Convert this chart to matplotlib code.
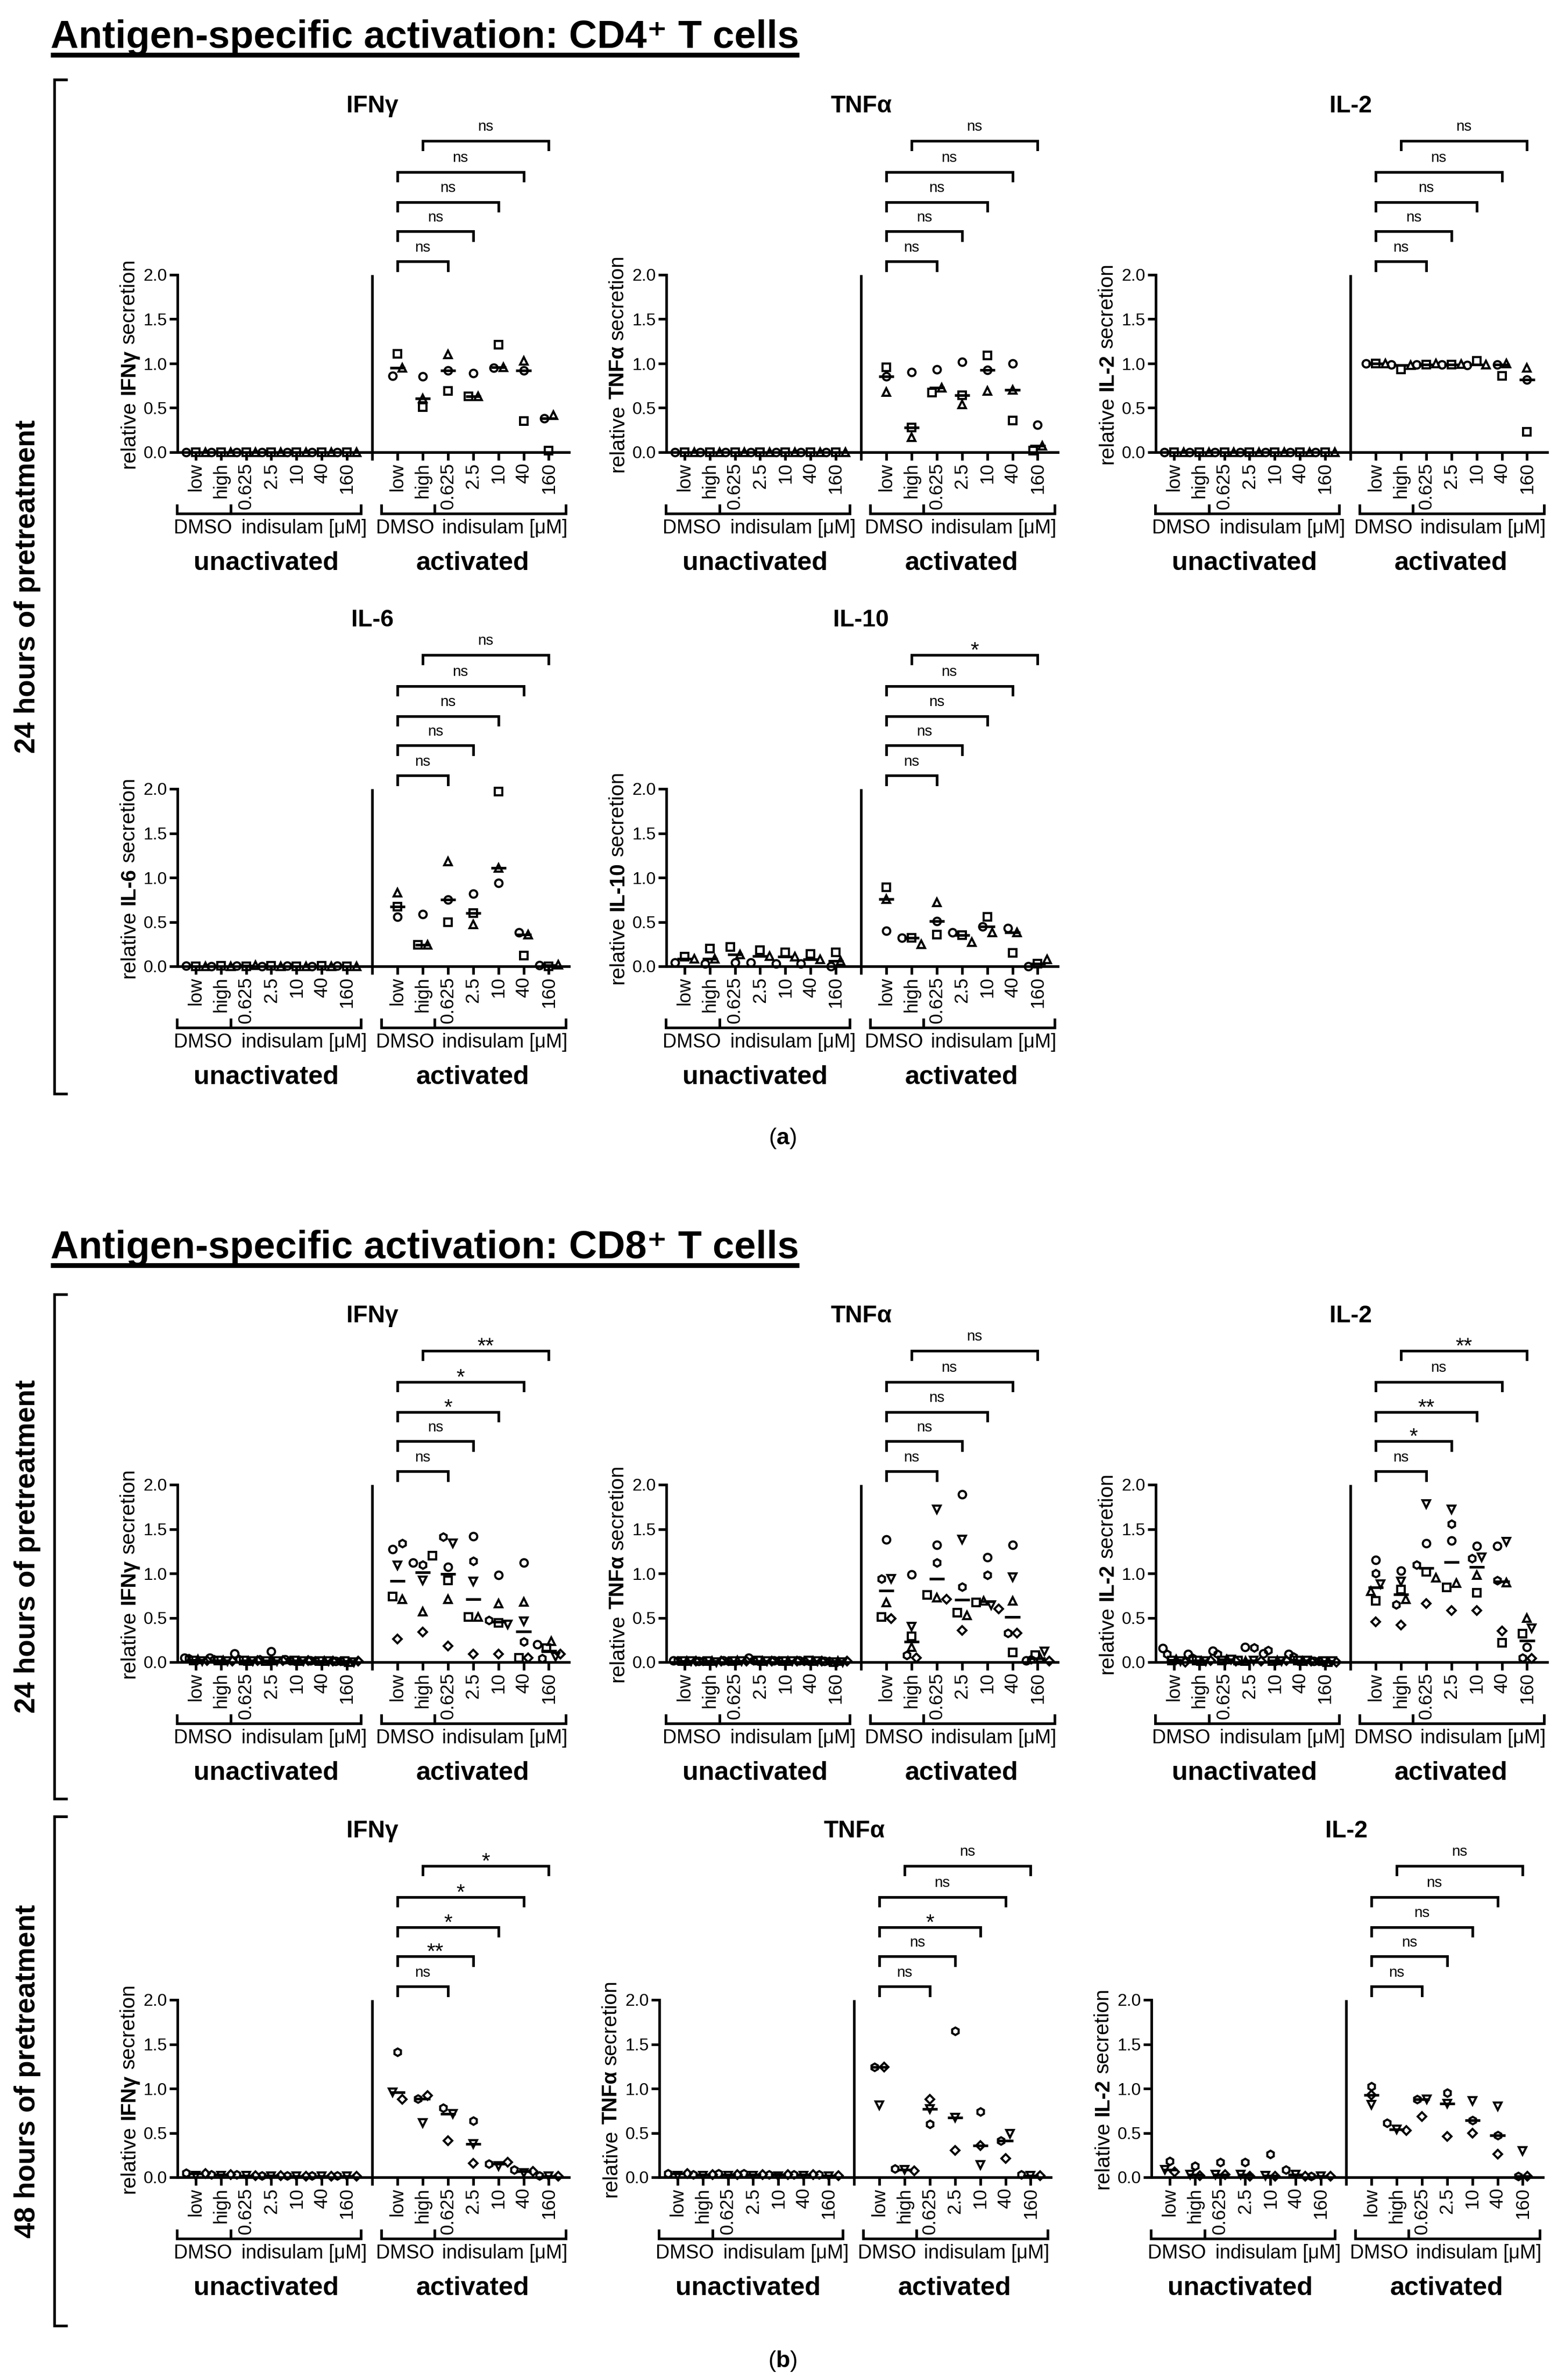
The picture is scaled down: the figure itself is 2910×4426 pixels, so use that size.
import numpy as np
import matplotlib
matplotlib.use("Agg")
import matplotlib.pyplot as plt
from matplotlib.lines import Line2D

plt.rcParams['font.family'] = ['Liberation Sans', 'DejaVu Sans']
plt.rcParams['mathtext.fontset'] = 'custom'
plt.rcParams['mathtext.rm'] = 'Liberation Sans'
plt.rcParams['mathtext.bf'] = 'Liberation Sans:bold'

W, H = 2910, 4426

categories = ["low", "high", "0.625", "2.5", "10", "40", "160"]
# comparisons inside the activated group, bottom bracket first
comparisons = [(0, 2), (0, 3), (0, 4), (0, 5), (1, 6)]

cd4_markers = ["o", "s", "^"]
cd8_24h_markers = ["o", "h", "s", "^", "v", "D"]
cd8_48h_markers = ["h", "v", "D"]

# rows = categories (low .. 160), columns = donors
cd4_ifng_unact = [[0, 0, 0], [0, 0, 0], [0, 0, 0], [0, 0, 0], [0, 0, 0], [0, 0, 0], [0, 0, 0]]
cd4_ifng_act = [[0.86, 1.11, 0.95], [0.855, 0.51, 0.605], [0.92, 0.69, 1.10], [0.89, 0.63, 0.63],
                [0.95, 1.21, 0.955], [0.92, 0.35, 1.03], [0.38, 0.02, 0.42]]
cd4_ifng_sig = ["ns", "ns", "ns", "ns", "ns"]

cd4_tnfa_unact = [[0, 0, 0], [0, 0, 0], [0, 0, 0], [0, 0, 0], [0, 0, 0], [0, 0, 0], [0, 0, 0]]
cd4_tnfa_act = [[0.855, 0.96, 0.68], [0.905, 0.28, 0.17], [0.935, 0.67, 0.73], [1.02, 0.64, 0.54],
                [0.93, 1.09, 0.69], [1.00, 0.36, 0.70], [0.31, 0.02, 0.07]]
cd4_tnfa_sig = ["ns", "ns", "ns", "ns", "ns"]

cd4_il2_unact = [[0, 0, 0], [0, 0, 0], [0, 0, 0], [0, 0, 0], [0, 0, 0], [0, 0, 0], [0, 0, 0]]
cd4_il2_act = [[1.0, 1.0, 1.0], [0.99, 0.935, 0.98], [0.99, 0.99, 1.0], [0.99, 0.99, 0.995],
               [0.98, 1.03, 0.99], [0.99, 0.86, 1.0], [0.82, 0.23, 0.95]]
cd4_il2_sig = ["ns", "ns", "ns", "ns", "ns"]

cd4_il6_unact = [[0.005, 0, 0], [0, 0.005, 0], [0.005, 0, 0.01], [0, 0.005, 0], [0.005, 0, 0],
                 [0, 0.005, 0], [0.005, 0, 0]]
cd4_il6_act = [[0.56, 0.67, 0.83], [0.59, 0.24, 0.24], [0.75, 0.50, 1.18], [0.82, 0.60, 0.47],
               [0.94, 1.97, 1.11], [0.38, 0.12, 0.36], [0.01, 0.0, 0.02]]
cd4_il6_sig = ["ns", "ns", "ns", "ns", "ns"]

cd4_il10_unact = [[0.04, 0.11, 0.085], [0.03, 0.20, 0.085], [0.04, 0.22, 0.135], [0.04, 0.18, 0.115],
                  [0.03, 0.16, 0.11], [0.03, 0.14, 0.08], [0.0, 0.16, 0.06]]
cd4_il10_act = [[0.40, 0.89, 0.76], [0.32, 0.32, 0.25], [0.51, 0.36, 0.72], [0.38, 0.35, 0.27],
                [0.45, 0.56, 0.38], [0.43, 0.15, 0.38], [0.0, 0.03, 0.08]]
cd4_il10_sig = ["ns", "ns", "ns", "ns", "*"]

cd8_24h_ifng_unact = [[0.05, 0.04, 0.02, 0.03, 0.01, 0.02], [0.05, 0.03, 0.02, 0.02, 0.01, 0.01],
                      [0.10, 0.03, 0.02, 0.01, 0.01, 0.02], [0.12, 0.03, 0.01, 0.02, 0.01, 0.02],
                      [0.03, 0.02, 0.02, 0.01, 0.01, 0.02], [0.02, 0.02, 0.01, 0.01, 0.01, 0.01],
                      [0.01, 0.01, 0.01, 0.0, 0.0, 0.01]]
cd8_24h_ifng_act = [[1.27, 1.34, 0.74, 0.71, 1.09, 0.26], [1.12, 1.10, 1.20, 0.57, 0.92, 0.34],
                    [1.07, 1.41, 0.92, 0.71, 1.34, 0.18], [1.42, 1.14, 0.51, 0.51, 0.91, 0.09],
                    [0.98, 0.475, 0.44, 0.66, 0.425, 0.09], [1.12, 0.23, 0.05, 0.68, 0.46, 0.05],
                    [0.20, 0.04, 0.16, 0.235, 0.06, 0.09]]
cd8_24h_ifng_sig = ["ns", "ns", "*", "*", "**"]

cd8_24h_tnfa_unact = [[0.02, 0.02, 0.01, 0.01, 0.01, 0.01], [0.01, 0.01, 0.01, 0.01, 0.0, 0.01],
                      [0.02, 0.01, 0.01, 0.02, 0.01, 0.01], [0.05, 0.02, 0.02, 0.01, 0.01, 0.01],
                      [0.02, 0.02, 0.01, 0.01, 0.01, 0.01], [0.02, 0.01, 0.02, 0.01, 0.01, 0.01],
                      [0.01, 0.01, 0.0, 0.01, 0.0, 0.01]]
cd8_24h_tnfa_act = [[1.38, 0.94, 0.51, 0.67, 0.94, 0.49], [0.99, 0.08, 0.29, 0.17, 0.40, 0.05],
                    [1.32, 1.12, 0.76, 0.73, 1.72, 0.71], [1.89, 0.85, 0.56, 0.53, 1.38, 0.36],
                    [1.18, 0.98, 0.675, 0.69, 0.64, 0.60], [1.32, 0.33, 0.11, 0.69, 0.96, 0.33],
                    [0.02, 0.03, 0.08, 0.05, 0.12, 0.01]]
cd8_24h_tnfa_sig = ["ns", "ns", "ns", "ns", "ns"]

cd8_24h_il2_unact = [[0.16, 0.09, 0.02, 0.03, 0.01, 0.0], [0.09, 0.05, 0.02, 0.01, 0.01, 0.02],
                     [0.13, 0.09, 0.02, 0.03, 0.03, 0.01], [0.17, 0.165, 0.02, 0.01, 0.02, 0.01],
                     [0.10, 0.135, 0.01, 0.02, 0.01, 0.02], [0.09, 0.06, 0.02, 0.01, 0.02, 0.01],
                     [0.01, 0.01, 0.01, 0.0, 0.01, 0.0]]
cd8_24h_il2_act = [[1.15, 1.0, 0.69, 0.80, 0.88, 0.455], [1.03, 0.65, 0.82, 0.71, 0.91, 0.42],
                   [1.34, 1.10, 1.02, 0.95, 1.78, 0.66], [1.37, 1.56, 0.84, 0.89, 1.72, 0.58],
                   [1.31, 1.17, 0.78, 0.98, 1.18, 0.58], [1.31, 0.92, 0.22, 0.90, 1.36, 0.35],
                   [0.17, 0.05, 0.32, 0.50, 0.38, 0.04]]
cd8_24h_il2_sig = ["ns", "*", "**", "ns", "**"]

cd8_48h_ifng_unact = [[0.05, 0.02, 0.04], [0.03, 0.02, 0.03], [0.03, 0.02, 0.02], [0.02, 0.01, 0.02],
                      [0.02, 0.01, 0.01], [0.02, 0.01, 0.01], [0.02, 0.01, 0.01]]
cd8_48h_ifng_act = [[1.41, 0.96, 0.88], [0.885, 0.615, 0.92], [0.78, 0.715, 0.41], [0.635, 0.375, 0.155],
                    [0.15, 0.125, 0.17], [0.085, 0.05, 0.065], [0.02, 0.01, 0.01]]
cd8_48h_ifng_sig = ["ns", "**", "*", "*", "*"]

cd8_48h_tnfa_unact = [[0.04, 0.02, 0.04], [0.03, 0.02, 0.03], [0.04, 0.02, 0.03], [0.04, 0.02, 0.03],
                      [0.03, 0.01, 0.03], [0.03, 0.02, 0.03], [0.03, 0.01, 0.02]]
cd8_48h_tnfa_act = [[1.245, 0.81, 1.245], [0.10, 0.085, 0.07], [0.60, 0.77, 0.88], [1.65, 0.67, 0.305],
                    [0.74, 0.14, 0.36], [0.41, 0.49, 0.21], [0.03, 0.02, 0.02]]
cd8_48h_tnfa_sig = ["ns", "ns", "*", "ns", "ns"]

cd8_48h_il2_unact = [[0.18, 0.085, 0.06], [0.13, 0.03, 0.02], [0.17, 0.03, 0.03], [0.17, 0.03, 0.01],
                     [0.26, 0.02, 0.01], [0.085, 0.03, 0.01], [0.01, 0.01, 0.01]]
cd8_48h_il2_act = [[1.025, 0.82, 0.925], [0.61, 0.54, 0.53], [0.88, 0.88, 0.685], [0.95, 0.83, 0.46],
                   [0.64, 0.86, 0.50], [0.47, 0.80, 0.26], [0.01, 0.30, 0.01]]
cd8_48h_il2_sig = ["ns", "ns", "ns", "ns", "ns"]

LW = 3.5
MS = 10
MEW = 2.8
YLS = 28

fig = plt.figure(figsize=(W / 100, H / 100), dpi=100)
ylabel_parts = []


def px_rect(left, top, width=728, height=330):
    return [left / W, 1 - (top + height) / H, width / W, height / H]


def dodge(values, spacing=0.38, thr=0.09, maxw=0.9):
    order = np.argsort(values, kind="stable")
    offsets = np.zeros(len(values))
    groups, cur = [], [order[0]]
    for i in order[1:]:
        if values[i] - values[cur[-1]] < thr:
            cur.append(i)
        else:
            groups.append(cur)
            cur = [i]
    groups.append(cur)
    for g in groups:
        g = sorted(g)
        n = len(g)
        if n > 1:
            sp = min(spacing, maxw / (n - 1))
            for k, i in enumerate(g):
                offsets[i] = (k - (n - 1) / 2) * sp
    return offsets


def draw_panel(rect, title, cytokine, unact, act, markers, sig):
    ax = fig.add_axes(rect)
    ax.set_xlim(-0.72, 14.8)
    ax.set_ylim(0, 2)
    ax.patch.set_visible(False)
    for s in ["top", "right"]:
        ax.spines[s].set_visible(False)
    for s in ["left", "bottom"]:
        ax.spines[s].set_linewidth(LW)
    ax.set_yticks([0, 0.5, 1.0, 1.5, 2.0])
    ax.set_yticklabels(["0.0", "0.5", "1.0", "1.5", "2.0"])
    ax.set_xticks(list(range(7)) + list(range(8, 15)))
    ax.set_xticklabels(categories * 2, rotation=90)
    ax.tick_params(direction="out", length=11, width=LW, top=False, right=False)
    ax.tick_params(axis="x", labelsize=25, pad=3)
    ax.tick_params(axis="y", labelsize=23, pad=3)

    # separator between unactivated and activated
    ax.plot([7, 7], [-0.09, 2], color="k", lw=LW, clip_on=False, solid_capstyle="butt")

    for base, data in [(0, unact), (8, act)]:
        arr = np.asarray(data, float)
        for c in range(len(categories)):
            vals = arr[c]
            offs = dodge(vals)
            for d, (v, o) in enumerate(zip(vals, offs)):
                m = markers[d]
                ax.plot(base + c + o, v, marker=m, ms=MS * (0.78 if m == "D" else 1.0),
                        mfc="none", mec="k", mew=MEW, ls="none", clip_on=False, zorder=3)
            med = np.median(vals)
            ax.plot([base + c - 0.3, base + c + 0.3], [med, med], color="k", lw=LW,
                    clip_on=False, zorder=4, solid_capstyle="butt")

    # group brackets under the tick labels
    for left, mid, right, dx, ix, lx, lab in [(-0.75, 1.38, 6.55, 0.28, 4.3, 2.8, "unactivated"),
                                               (7.37, 9.46, 14.68, 8.3, 12.25, 10.98, "activated")]:
        ax.plot([left, left, right, right], [-0.60, -0.69, -0.69, -0.60], color="k", lw=LW,
                clip_on=False, solid_joinstyle="miter")
        ax.plot([mid, mid], [-0.69, -0.60], color="k", lw=LW, clip_on=False)
        ax.text(dx, -0.86, "DMSO", ha="center", va="center", fontsize=26)
        ax.text(ix, -0.86, "indisulam [μM]", ha="center", va="center", fontsize=26)
        ax.text(lx, -1.25, lab, ha="center", va="center", fontsize=35, weight="bold")

    # significance brackets
    levels = [2.15, 2.49, 2.82, 3.16, 3.51]
    for (a, b), lvl, s in zip(comparisons, levels, sig):
        xa, xb = 8 + a, 8 + b
        ax.plot([xa, xa, xb, xb], [lvl - 0.1, lvl, lvl, lvl - 0.1], color="k", lw=LW,
                clip_on=False, solid_joinstyle="miter")
        if s == "ns":
            ax.text((xa + xb) / 2, lvl + 0.075, s, ha="center", va="bottom", fontsize=20)
        else:
            ax.text((xa + xb) / 2, lvl - 0.07, s, ha="center", va="bottom", fontsize=29)

    ax.text(7, 3.9, title, ha="center", va="center", fontsize=32, weight="bold")

    # y label with the cytokine in bold
    kw = dict(rotation=90, rotation_mode="anchor", ha="left", va="baseline", fontsize=YLS)
    t1 = ax.text(-2.42, 0.0, "relative", clip_on=False, **kw)
    t2 = ax.annotate(cytokine, xy=(-2.42, 1), xycoords=(ax.transData, t1), xytext=(0, 7.8),
                     textcoords="offset points", weight="bold", annotation_clip=False, **kw)
    t3 = ax.annotate("secretion", xy=(-2.42, 1), xycoords=(ax.transData, t2), xytext=(0, 7.8),
                     textcoords="offset points", annotation_clip=False, **kw)
    ylabel_parts.append((ax, t1, t3))
    return ax


row_tops = [511, 1467, 2761, 3719]
cols = [330, 1239, 2149]
cols_48h = [330, 1226, 2141]

draw_panel(px_rect(cols[0], row_tops[0]), "IFNγ", "IFNγ", cd4_ifng_unact, cd4_ifng_act, cd4_markers, cd4_ifng_sig)
draw_panel(px_rect(cols[1], row_tops[0]), "TNFα", "TNFα", cd4_tnfa_unact, cd4_tnfa_act, cd4_markers, cd4_tnfa_sig)
draw_panel(px_rect(cols[2], row_tops[0]), "IL-2", "IL-2", cd4_il2_unact, cd4_il2_act, cd4_markers, cd4_il2_sig)
draw_panel(px_rect(cols[0], row_tops[1]), "IL-6", "IL-6", cd4_il6_unact, cd4_il6_act, cd4_markers, cd4_il6_sig)
draw_panel(px_rect(cols[1], row_tops[1]), "IL-10", "IL-10", cd4_il10_unact, cd4_il10_act, cd4_markers, cd4_il10_sig)

draw_panel(px_rect(cols[0], row_tops[2]), "IFNγ", "IFNγ", cd8_24h_ifng_unact, cd8_24h_ifng_act, cd8_24h_markers, cd8_24h_ifng_sig)
draw_panel(px_rect(cols[1], row_tops[2]), "TNFα", "TNFα", cd8_24h_tnfa_unact, cd8_24h_tnfa_act, cd8_24h_markers, cd8_24h_tnfa_sig)
draw_panel(px_rect(cols[2], row_tops[2]), "IL-2", "IL-2", cd8_24h_il2_unact, cd8_24h_il2_act, cd8_24h_markers, cd8_24h_il2_sig)

draw_panel(px_rect(cols_48h[0], row_tops[3]), "IFNγ", "IFNγ", cd8_48h_ifng_unact, cd8_48h_ifng_act, cd8_48h_markers, cd8_48h_ifng_sig)
draw_panel(px_rect(cols_48h[1], row_tops[3]), "TNFα", "TNFα", cd8_48h_tnfa_unact, cd8_48h_tnfa_act, cd8_48h_markers, cd8_48h_tnfa_sig)
draw_panel(px_rect(cols_48h[2], row_tops[3]), "IL-2", "IL-2", cd8_48h_il2_unact, cd8_48h_il2_act, cd8_48h_markers, cd8_48h_il2_sig)


def fx(x):
    return x / W


def fy(y):
    return 1 - y / H


titles = []
for text, base_y in [("Antigen-specific activation: CD4⁺ T cells", 89),
                     ("Antigen-specific activation: CD8⁺ T cells", 2340)]:
    titles.append((fig.text(fx(94), fy(base_y), text, ha="left", va="baseline",
                            fontsize=52, weight="bold"), base_y))


def bracket(top, bottom, x=101, tick=22):
    fig.add_artist(Line2D([fx(x + tick), fx(x), fx(x), fx(x + tick)], [fy(top), fy(top), fy(bottom), fy(bottom)],
                          transform=fig.transFigure, color="k", lw=3.6, solid_joinstyle="miter"))


bracket(148, 2034)
bracket(2407, 3345)
bracket(3378, 4325)

fig.text(fx(51), fy((148 + 2034) / 2), "24 hours of pretreatment", rotation=90, ha="center", va="center",
         fontsize=38, weight="bold")
fig.text(fx(51), fy((2407 + 3345) / 2), "24 hours of pretreatment", rotation=90, ha="center", va="center",
         fontsize=38, weight="bold")
fig.text(fx(51), fy((3378 + 4325) / 2), "48 hours of pretreatment", rotation=90, ha="center", va="center",
         fontsize=38, weight="bold")

fig.text(fx(1455), fy(2117), r"($\mathbf{a}$)", ha="center", va="center", fontsize=31)
fig.text(fx(1455), fy(4391), r"($\mathbf{b}$)", ha="center", va="center", fontsize=31)

# second pass: centre the y labels and underline the titles
fig.canvas.draw()
r = fig.canvas.get_renderer()
for ax, t1, t3 in ylabel_parts:
    b1 = t1.get_window_extent(r)
    b3 = t3.get_window_extent(r)
    y_mid = (b1.y0 + b3.y1) / 2
    y0 = ax.transData.transform((0, 0))[1]
    y1 = ax.transData.transform((0, 1))[1]
    t1.set_y(t1.get_position()[1] + (y1 - y_mid) / (y1 - y0))

for t, base_y in titles:
    bb = t.get_window_extent(r)
    fig.add_artist(Line2D([bb.x0 / W, bb.x1 / W], [fy(base_y + 13), fy(base_y + 13)],
                          transform=fig.transFigure, color="k", lw=6.5, solid_capstyle="butt"))

fig.savefig("out.png", dpi=100)
